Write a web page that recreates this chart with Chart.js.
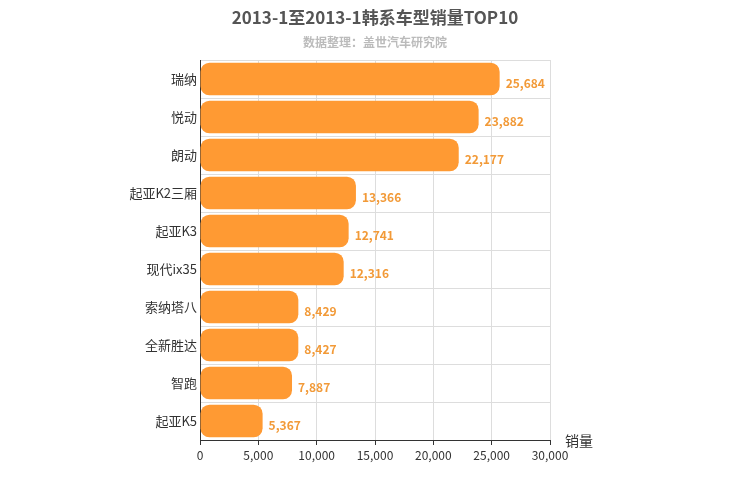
<!DOCTYPE html>
<html>
<head>
<meta charset="utf-8">
<script src="https://cdn.jsdelivr.net/npm/chart.js@4"></script>
<style>body{margin:0}#wrap{width:750px;height:500px}</style>
</head>
<body>
<div id="wrap"><canvas id="MiGrafica"></canvas></div>
<script>
const categorias = ["瑞纳", "悦动", "朗动", "起亚K2三厢", "起亚K3", "现代ix35", "索纳塔八", "全新胜达", "智跑", "起亚K5"];
const ventas = [25684, 23882, 22177, 13366, 12741, 12316, 8429, 8427, 7887, 5367];
const fuente = "'Noto Sans CJK SC', 'Noto Sans', sans-serif";

// titulo, subtitulo y etiquetas de valor
const extras = {
  id: 'extras',
  afterDatasetsDraw(chart) {
    const ctx = chart.ctx;
    ctx.save();
    ctx.textAlign = 'center';
    ctx.fillStyle = '#555';
    ctx.font = 'bold 17px ' + fuente;
    ctx.fillText('2013-1至2013-1韩系车型销量TOP10', 375, 24);
    ctx.fillStyle = '#bbb';
    ctx.font = 'bold 12px ' + fuente;
    ctx.fillText('数据整理：盖世汽车研究院', 375, 47);
    ctx.fillStyle = '#f29a38';
    ctx.font = 'bold 12px ' + fuente;
    ctx.textAlign = 'left';
    ctx.textBaseline = 'middle';
    chart.getDatasetMeta(0).data.forEach((bar, i) => {
      ctx.fillText(ventas[i].toLocaleString('en-US'), bar.x + 6, bar.y + 4);
    });
    ctx.fillStyle = '#333';
    ctx.font = '14px ' + fuente;
    ctx.fillText('销量', 565, 441);
    ctx.restore();
  }
};

const miCanvas = document.getElementById("MiGrafica").getContext("2d");
new Chart(miCanvas, {
  type: "bar",
  data: {
    labels: categorias,
    datasets: [{
      data: ventas,
      backgroundColor: '#ff9a33',
      borderRadius: 9,
      borderSkipped: false,
      categoryPercentage: 0.86,
      barPercentage: 1
    }]
  },
  plugins: [extras],
  options: {
    indexAxis: 'y',
    responsive: true,
    maintainAspectRatio: false,
    animation: false,
    layout: { padding: { top: 60, right: 200, left: 0, bottom: 0 } },
    plugins: { legend: { display: false }, tooltip: { enabled: false } },
    scales: {
      x: {
        min: 0, max: 30000,
        ticks: { stepSize: 5000, color: '#333', font: { size: 12, family: fuente }, callback: v => v.toLocaleString('en-US') },
        grid: { color: '#ddd', tickLength: 5, tickColor: '#333' },
        border: { color: '#333' },
        afterFit(s) { s.height = 60; }
      },
      y: {
        ticks: { color: '#333', font: { size: 13, family: fuente } },
        grid: { color: '#ddd', offset: true, tickLength: 0 },
        border: { color: '#333' },
        afterFit(s) { s.width = 200; }
      }
    }
  }
});
</script>
</body>
</html>
